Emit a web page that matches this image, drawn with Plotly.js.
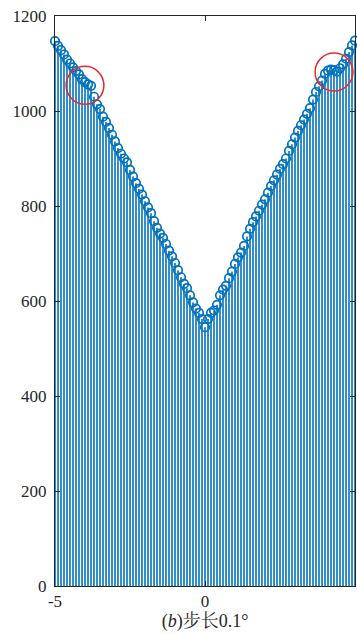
<!DOCTYPE html>
<html>
<head>
<meta charset="utf-8">
<script src="https://cdn.plot.ly/plotly-3.0.1.min.js"></script>
<style>html,body{margin:0;padding:0;background:#fff;}#chart{width:357px;height:634px;}</style>
</head>
<body>
<div id="chart"></div>
<script>
// Angle positions (step 0.1 deg)
const angles = [];
for (let i = -50; i <= 50; i++) angles.push(Math.round(i) / 10);

// Values
const valuesLeft = [1147,1137,1128,1119,1108,1100,1092,1084,1077,1067,
  1061,1056,1053,1030,1014,1004,988,977,964,950,
  936,922,910,900,892,876,862,848,836,824,
  810,797,785,768,754,742,733,720,706,694,
  680,665,650,636,627,612,597,584,575,562,545];
const valuesRight = [562,575,580,592,612,624,632,648,662,678,
  692,702,716,736,752,766,778,790,803,814,
  828,842,854,866,878,888,900,916,930,944,
  958,970,982,994,1006,1024,1040,1052,1064,1078,
  1085,1087,1086,1083,1090,1098,1110,1124,1138,1148];
const values = valuesLeft.concat(valuesRight);

// Highlighted anomalies (red circles)
const circleX = [-4.0, 4.3];
const circleY = [1054, 1082];

const xTicks = [-5, 0, 5];
const xTickText = ['-5', '0', '5'];
const yTicks = [0, 200, 400, 600, 800, 1000, 1200];

const blue = '#0072BD';

// stems
const sx = [], sy = [];
angles.forEach((a, i) => { sx.push(a, a, null); sy.push(0, values[i], null); });

const stems = {
  x: sx, y: sy, type: 'scatter', mode: 'lines',
  line: {color: blue, width: 1.6}, hoverinfo: 'skip', showlegend: false
};
const heads = {
  x: angles, y: values, type: 'scatter', mode: 'markers', cliponaxis: false,
  marker: {symbol: 'circle-open', size: 8.5, color: blue, line: {width: 1.7, color: blue}},
  showlegend: false
};

const shapes = circleX.map((cx, i) => ({
  type: 'circle', xref: 'x', yref: 'y',
  x0: cx - 0.63, x1: cx + 0.63, y0: circleY[i] - 40, y1: circleY[i] + 40,
  line: {color: '#E8292B', width: 1.5}
}));

const font = {family: '"Liberation Serif", "Times New Roman", "Noto Serif CJK SC", "Noto Sans CJK SC", serif', size: 17, color: '#262626'};

const layout = {
  width: 357, height: 634,
  margin: {l: 55, r: 2, t: 16, b: 48},
  paper_bgcolor: '#fff', plot_bgcolor: '#fff',
  font: font,
  showlegend: false,
  xaxis: {
    range: [-5, 5], tickvals: xTicks, ticktext: xTickText,
    ticks: 'inside', ticklen: 5, tickcolor: '#262626', tickwidth: 1,
    showline: true, linecolor: '#262626', linewidth: 1, mirror: 'ticks',
    showgrid: false, zeroline: false,
    tickfont: {size: 17},
    title: {text: '(<i>b</i>)步长0.1°', font: {size: 18}, standoff: 2}
  },
  yaxis: {
    range: [0, 1200], tickvals: yTicks,
    ticks: 'inside', ticklen: 5, tickcolor: '#262626', tickwidth: 1,
    showline: true, linecolor: '#262626', linewidth: 1, mirror: 'ticks',
    showgrid: false, zeroline: false, ticklabelstandoff: 4,
    tickfont: {size: 17}
  },
  shapes: shapes
};

Plotly.newPlot('chart', [stems, heads], layout, {displayModeBar: false, staticPlot: true});
</script>
</body>
</html>
